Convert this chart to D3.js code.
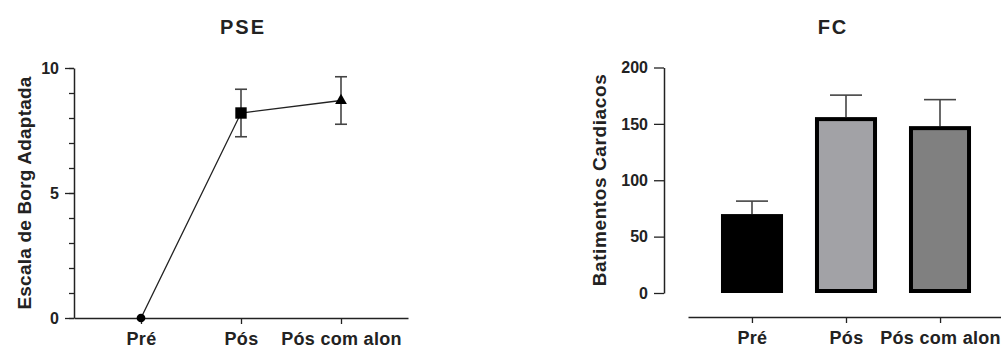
<!DOCTYPE html>
<html>
<head>
<meta charset="utf-8">
<script src="https://cdn.jsdelivr.net/npm/d3@7"></script>
<style>
  body { margin: 0; background: #fff; }
  text { font-family: "Liberation Sans", Arial, sans-serif; font-weight: bold; fill: #222; }
</style>
</head>
<body>
<svg id="chart"></svg>
<script>
// set width and height of graphic
var width = 1001,
    height = 349;

// data
var categories = ["Pré", "Pós", "Pós com alon"];
var pseMean = [0, 8.2, 8.7];
var pseErr = [0, 0.95, 0.95];
var fcMean = [70, 156, 148];
var fcErr = [11.5, 19.5, 23.5];
var fcFill = ["#000000", "#a2a2a6", "#808080"];
var pseTicks = [0, 5, 10];
var fcTicks = [0, 50, 100, 150, 200];

var ink = "#222";

var svg = d3.select("#chart")
    .attr("width", width)
    .attr("height", height);

// ---------- PSE (left, points + line) ----------
var x1 = d3.scalePoint()
    .domain(categories)
    .range([74, 408])
    .padding(0.67);

var y1 = d3.scaleLinear()
    .domain([0, 10])
    .range([318, 68]);

var g1 = svg.append("g");

g1.append("text")
    .attr("x", 243).attr("y", 34)
    .attr("text-anchor", "middle")
    .style("font-size", "20px")
    .style("letter-spacing", "2px")
    .text("PSE");

// minor ticks
g1.append("g")
    .attr("transform", "translate(74,0)")
    .call(d3.axisLeft(y1).tickValues(d3.range(0, 11)).tickSize(5).tickFormat(""))
    .call(function(g) { g.select(".domain").remove(); })
    .selectAll("line").attr("stroke", ink).attr("stroke-width", 1.3);

// major ticks + axis
var ax1 = g1.append("g")
    .attr("transform", "translate(74,0)")
    .call(d3.axisLeft(y1).tickValues(pseTicks).tickSize(9).tickSizeOuter(0).tickPadding(6));
ax1.select(".domain").attr("stroke", ink).attr("stroke-width", 1.5);
ax1.selectAll("line").attr("stroke", ink).attr("stroke-width", 1.3);
ax1.selectAll("text").style("font-size", "16px");

var bx1 = g1.append("g")
    .attr("transform", "translate(0,318)")
    .call(d3.axisBottom(x1).tickSize(6).tickSizeOuter(0).tickPadding(8));
bx1.select(".domain").attr("stroke", ink).attr("stroke-width", 1.5);
bx1.selectAll("line").attr("stroke", ink).attr("stroke-width", 1.3);
bx1.selectAll("text").style("font-size", "18px").style("letter-spacing", "0.3px");

g1.append("text")
    .attr("transform", "translate(31,193) rotate(-90)")
    .attr("text-anchor", "middle")
    .style("font-size", "19px")
    .style("letter-spacing", "0.2px")
    .text("Escala de Borg Adaptada");

// error bars
var eb = g1.selectAll(".err")
    .data(categories.filter(function(c, i) { return pseErr[i] > 0; }))
    .enter().append("g").attr("class", "err");
eb.each(function(c) {
  var i = categories.indexOf(c);
  var gx = x1(c), top = y1(pseMean[i] + pseErr[i]), bot = y1(pseMean[i] - pseErr[i]);
  var s = d3.select(this);
  s.append("line").attr("x1", gx).attr("x2", gx).attr("y1", top).attr("y2", bot);
  s.append("line").attr("x1", gx - 6).attr("x2", gx + 6).attr("y1", top).attr("y2", top);
  s.append("line").attr("x1", gx - 6).attr("x2", gx + 6).attr("y1", bot).attr("y2", bot);
  s.selectAll("line").attr("stroke", "#444").attr("stroke-width", 1.6);
});

// connecting line
g1.append("path")
    .datum(categories)
    .attr("fill", "none")
    .attr("stroke", ink)
    .attr("stroke-width", 1.3)
    .attr("d", d3.line()
      .x(function(c) { return x1(c); })
      .y(function(c, i) { return y1(pseMean[i]); }));

// markers
var shapes = [d3.symbolCircle, d3.symbolSquare, d3.symbolTriangle];
var sizes = [60, 130, 60];
g1.selectAll(".mark")
    .data(categories)
    .enter().append("path")
    .attr("class", "mark")
    .attr("transform", function(c, i) { return "translate(" + x1(c) + "," + y1(pseMean[i]) + ")"; })
    .attr("d", function(c, i) { return d3.symbol().type(shapes[i]).size(sizes[i])(); })
    .attr("fill", "#000");

// ---------- FC (right, bars) ----------
var x2 = d3.scaleBand()
    .domain(categories)
    .range([705, 987])
    .paddingInner(0.34)
    .paddingOuter(0.17);

var y2 = d3.scaleLinear()
    .domain([0, 200])
    .range([293, 67.5]);

var g2 = svg.append("g");

g2.append("text")
    .attr("x", 833).attr("y", 34)
    .attr("text-anchor", "middle")
    .style("font-size", "20px")
    .style("letter-spacing", "2px")
    .text("FC");

var ax2 = g2.append("g")
    .attr("transform", "translate(664,0)")
    .call(d3.axisLeft(y2).tickValues(fcTicks).tickSize(10).tickSizeOuter(0).tickPadding(6));
ax2.select(".domain").attr("stroke", ink).attr("stroke-width", 1.5);
ax2.selectAll("line").attr("stroke", ink).attr("stroke-width", 1.3);
ax2.selectAll("text").style("font-size", "16px");

// detached category axis
var xAxisScale = d3.scalePoint()
    .domain(categories)
    .range([688, 1004])
    .padding(0.68);
var bx2 = g2.append("g")
    .attr("transform", "translate(0,317)")
    .call(d3.axisBottom(xAxisScale).tickSize(6).tickSizeOuter(0).tickPadding(8));
bx2.select(".domain").attr("stroke", ink).attr("stroke-width", 1.5);
bx2.selectAll("line").attr("stroke", ink).attr("stroke-width", 1.3);
bx2.selectAll("text").style("font-size", "18px").style("letter-spacing", "0.3px");

g2.append("text")
    .attr("transform", "translate(606,180) rotate(-90)")
    .attr("text-anchor", "middle")
    .style("font-size", "19px")
    .style("letter-spacing", "0.6px")
    .text("Batimentos Cardiacos");

// error bars (upper only)
g2.selectAll(".fcerr")
    .data(categories)
    .enter().append("g").attr("class", "fcerr")
    .each(function(c, i) {
      var cx = x2(c) + x2.bandwidth() / 2;
      var s = d3.select(this);
      s.append("line").attr("x1", cx).attr("x2", cx)
        .attr("y1", y2(fcMean[i])).attr("y2", y2(fcMean[i] + fcErr[i]));
      s.append("line").attr("x1", cx - 16).attr("x2", cx + 16)
        .attr("y1", y2(fcMean[i] + fcErr[i])).attr("y2", y2(fcMean[i] + fcErr[i]));
      s.selectAll("line").attr("stroke", "#444").attr("stroke-width", 1.6);
    });

// bars
g2.selectAll(".bar")
    .data(categories)
    .enter().append("rect")
    .attr("class", "bar")
    .attr("x", function(c) { return x2(c) + 2; })
    .attr("width", x2.bandwidth() - 4)
    .attr("y", function(c, i) { return y2(fcMean[i]) + 2; })
    .attr("height", function(c, i) { return y2(0) - y2(fcMean[i]) - 4; })
    .attr("fill", function(c, i) { return fcFill[i]; })
    .attr("stroke", "#000")
    .attr("stroke-width", 4);
</script>
</body>
</html>
